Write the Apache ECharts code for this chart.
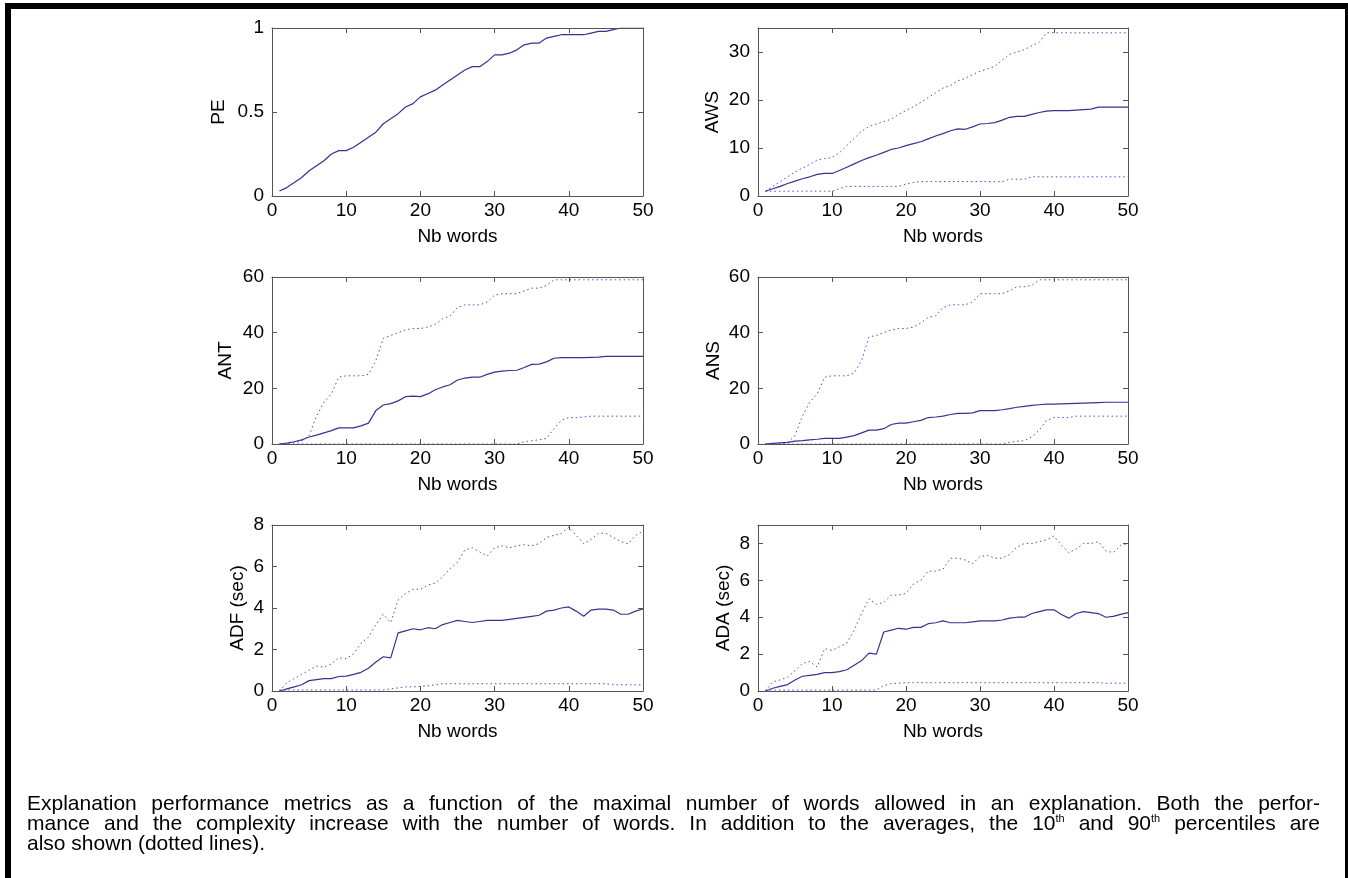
<!DOCTYPE html>
<html>
<head>
<meta charset="utf-8">
<script src="https://cdn.jsdelivr.net/npm/echarts@6/dist/echarts.min.js"></script>
<style>
  html, body { margin: 0; padding: 0; background: #fff; overflow: hidden; }
  #frame { position: absolute; left: 5px; top: 3px; width: 1346px; height: 900px;
           box-sizing: border-box; border: 6px solid #000; }
  #chart { position: absolute; left: 0; top: 0; width: 1348px; height: 878px; }
  #caption { position: absolute; left: 27px; top: 793px; width: 1293px;
             font-family: "Liberation Sans", Arial, sans-serif; font-size: 21px;
             line-height: 20px; color: #000; }
  #caption .j { text-align: justify; text-align-last: justify; }
  #caption sup { font-size: 11px; line-height: 0; vertical-align: 8px; }
</style>
</head>
<body>
<div id="frame"></div>
<div id="chart"></div>
<div id="caption">
  <div class="j">Explanation performance metrics as a function of the maximal number of words allowed in an explanation. Both the perfor-</div>
  <div class="j">mance and the complexity increase with the number of words. In addition to the averages, the 10<sup>th</sup> and 90<sup>th</sup> percentiles are</div>
  <div>also shown (dotted lines).</div>
</div>
<script>
// x: maximal number of words
const words = [1,2,3,4,5,6,7,8,9,10,11,12,13,14,15,16,17,18,19,20,21,22,23,24,25,
  26,27,28,29,30,31,32,33,34,35,36,37,38,39,40,41,42,43,44,45,46,47,48,49,50];

const peMean = [0.03,0.05,0.08,0.11,0.15,0.18,0.21,0.25,0.27,0.27,
  0.29,0.32,0.35,0.38,0.43,0.46,0.49,0.53,0.55,0.59,
  0.61,0.63,0.66,0.69,0.72,0.75,0.77,0.77,0.80,0.84,
  0.84,0.85,0.87,0.90,0.91,0.91,0.94,0.95,0.96,0.96,
  0.96,0.96,0.97,0.98,0.98,0.99,1.0,1.0,1.0,1.0];

const awsMean = [1.0,1.5,2.0,2.6,3.1,3.6,4.0,4.5,4.7,4.7,
  5.3,6.0,6.7,7.4,8.0,8.5,9.1,9.7,10.0,10.5,
  10.9,11.3,11.9,12.5,13.0,13.6,14.0,13.9,14.4,15.0,
  15.1,15.3,15.8,16.4,16.6,16.6,17.0,17.4,17.7,17.8,
  17.8,17.8,17.9,18.0,18.1,18.5,18.5,18.5,18.5,18.5];
const awsP90 = [1.0,2.0,3.0,4.0,5.0,5.8,6.6,7.5,7.8,8.0,
  9.0,10.5,12.0,13.5,14.5,15.0,15.5,16.0,17.0,17.8,
  18.6,19.5,20.5,21.5,22.5,23.0,24.0,24.5,25.3,26.0,
  26.5,27.0,28.3,29.5,30.0,30.5,31.3,32.0,34.0,34.0,
  34.0,34.0,34.0,34.0,34.0,34.0,34.0,34.0,34.0,34.0];
const awsP10 = [1,1,1,1,1,1,1,1,1,1,
  1.5,2,2,2,2,2,2,2,2,2.5,
  2.8,3,3,3,3,3,3,3,3,3,
  3,3,3,3.5,3.5,3.5,4,4,4,4,
  4,4,4,4,4,4,4,4,4,4];

const antMean = [0,0.3,0.8,1.5,2.5,3.2,4.0,4.8,5.8,5.8,
  5.8,6.5,7.5,12.0,14.0,14.5,15.5,17.0,17.2,17.0,
  18.0,19.5,20.5,21.3,23.0,23.7,24.0,24.0,25.0,25.8,
  26.2,26.4,26.5,27.5,28.6,28.7,29.5,30.8,31.0,31.0,
  31.0,31.0,31.1,31.2,31.5,31.5,31.5,31.5,31.5,31.5];
const antP90 = [0,0,0.5,1,3,10,15,18,24,24.5,
  24.5,24.5,25,30,38,39,40,41,41.5,41.5,
  42,43,45,46,49,50,50,50,51,53.5,
  54,54,54,55,56,56,57,59,59,59,
  59,59,59,59,59,59,59,59,59,59];
const antP10 = [0,0,0,0,0,0,0,0,0,0,
  0,0,0,0,0,0,0,0,0,0,
  0,0,0,0,0,0,0,0,0,0,
  0,0,0,0.8,1.2,1.5,2,5.5,8.5,9.5,
  9.5,9.7,10,10,10,10,10,10,10,10];

const ansMean = [0,0.2,0.4,0.6,1.0,1.2,1.5,1.7,2.0,2.0,
  2.0,2.5,3.0,4.0,5.0,5.0,5.5,7.0,7.5,7.5,
  8.0,8.5,9.5,9.7,10.0,10.6,11.0,11.0,11.2,12.0,
  12.0,12.0,12.3,12.7,13.2,13.5,13.9,14.1,14.3,14.3,
  14.4,14.5,14.6,14.7,14.8,14.9,15.0,15.0,15.0,15.0];
const ansP90 = [0,0,0,0.5,3,10,15,18,24,24.5,
  24.5,24.5,25.5,30,38.5,39,40,41,41.5,41.5,
  42,43.5,45.5,46,49,50,50,50,51,54,
  54,54,54,55,56.5,56.5,57,59,59,59,
  59,59,59,59,59,59,59,59,59,59];
const ansP10 = [0,0,0,0,0,0,0,0,0,0,
  0,0,0,0,0,0,0,0,0,0,
  0,0,0,0,0,0,0,0,0,0,
  0,0,0,0.6,1,1.2,2.5,5,8.5,9.5,
  9.5,9.5,10,10,10,10,10,10,10,10];

const adfMean = [0,0.1,0.2,0.3,0.5,0.55,0.6,0.6,0.7,0.72,
  0.8,0.9,1.1,1.4,1.65,1.6,2.8,2.9,3.0,2.95,
  3.05,3.0,3.2,3.3,3.4,3.35,3.3,3.35,3.4,3.4,
  3.4,3.45,3.5,3.55,3.6,3.65,3.85,3.9,4.0,4.05,
  3.85,3.6,3.9,3.95,3.95,3.9,3.7,3.7,3.85,3.95];
const adfP90 = [0,0.4,0.6,0.8,1.0,1.2,1.15,1.3,1.6,1.55,
  1.8,2.3,2.6,3.2,3.7,3.3,4.4,4.7,4.9,4.9,
  5.1,5.2,5.5,5.9,6.2,6.8,6.9,6.7,6.5,6.9,
  7.0,6.9,7.0,7.05,7.0,7.1,7.4,7.5,7.6,7.9,
  7.5,7.1,7.3,7.6,7.6,7.4,7.2,7.1,7.5,7.7];
const adfP10 = [0.05,0.05,0.05,0.05,0.05,0.05,0.05,0.05,0.05,0.05,
  0.05,0.05,0.05,0.05,0.05,0.1,0.15,0.2,0.2,0.22,
  0.25,0.3,0.35,0.35,0.35,0.35,0.35,0.35,0.35,0.35,
  0.35,0.35,0.35,0.35,0.35,0.35,0.35,0.35,0.35,0.35,
  0.35,0.35,0.35,0.35,0.35,0.3,0.3,0.3,0.3,0.3];

const adaMean = [0,0.15,0.25,0.35,0.6,0.8,0.85,0.9,1.0,1.0,
  1.05,1.15,1.4,1.65,2.05,2.0,3.2,3.3,3.4,3.35,
  3.45,3.45,3.65,3.7,3.8,3.7,3.7,3.7,3.75,3.8,
  3.8,3.8,3.85,3.95,4.0,4.0,4.2,4.3,4.4,4.4,
  4.15,3.95,4.2,4.3,4.25,4.2,4.0,4.05,4.15,4.25];
const adaP90 = [0,0.5,0.6,0.75,1.1,1.5,1.6,1.3,2.3,2.2,
  2.4,2.6,3.3,4.2,5.0,4.7,4.8,5.2,5.2,5.3,
  5.8,6.0,6.5,6.5,6.6,7.2,7.2,7.1,6.9,7.3,
  7.35,7.2,7.2,7.4,7.8,8.0,8.0,8.1,8.2,8.4,
  7.9,7.5,7.7,8.0,8.0,8.1,7.6,7.5,7.9,8.0];
const adaP10 = [0.05,0.05,0.05,0.05,0.05,0.05,0.05,0.05,0.05,0.05,
  0.05,0.05,0.05,0.05,0.05,0.05,0.3,0.4,0.42,0.45,
  0.45,0.45,0.45,0.45,0.45,0.45,0.45,0.45,0.45,0.45,
  0.45,0.45,0.45,0.45,0.45,0.45,0.45,0.45,0.45,0.45,
  0.45,0.45,0.45,0.45,0.45,0.45,0.42,0.42,0.42,0.42];

// subplot definitions (row-major, 3 rows x 2 cols)
const panels = [
  { label: "PE",        max: 1,  step: 0.5, gap: 44, mean: peMean },
  { label: "AWS",       max: 35, step: 10,  gap: 36, mean: awsMean, p90: awsP90, p10: awsP10 },
  { label: "ANT",       max: 60, step: 20,  gap: 37, mean: antMean, p90: antP90, p10: antP10 },
  { label: "ANS",       max: 60, step: 20,  gap: 35, mean: ansMean, p90: ansP90, p10: ansP10 },
  { label: "ADF (sec)", max: 8,  step: 2,   gap: 25, mean: adfMean, p90: adfP90, p10: adfP10 },
  { label: "ADA (sec)", max: 9,  step: 2,   gap: 25, mean: adaMean, p90: adaP90, p10: adaP10 },
];

const colLeft = [272, 758];
const colWidth = [371, 370];
const rowTop = [28, 277, 525];
const rowHeight = [168, 167, 166];

const FONT = "Liberation Sans, Arial, sans-serif";
const AXIS = "#555";
const MEAN = "#34348f";
const PCT = "#4a4ad0";

const pairs = (arr) => words.map((w, i) => [w, arr[i]]);

const grid = [], xAxis = [], yAxis = [], series = [];

panels.forEach((p, g) => {
  const r = Math.floor(g / 2), c = g % 2;
  grid.push({ left: colLeft[c], top: rowTop[r], width: colWidth[c], height: rowHeight[r] });

  const line = { show: true, onZero: false, lineStyle: { color: AXIS, width: 1 } };
  const tick = { show: true, inside: true, length: 5, lineStyle: { color: AXIS } };
  const lbl = { color: "#000", fontSize: 19, fontFamily: FONT };

  xAxis.push({
    gridIndex: g, type: "value", min: 0, max: 50, interval: 10, position: "bottom", z: 5,
    axisLine: line, axisTick: tick, splitLine: { show: false },
    axisLabel: Object.assign({ margin: 5 }, lbl),
    name: "Nb words", nameLocation: "middle", nameGap: 31,
    nameTextStyle: { color: "#000", fontSize: 19, fontFamily: FONT },
  });
  xAxis.push({
    gridIndex: g, type: "value", min: 0, max: 50, interval: 10, position: "top", z: 5,
    axisLine: line, axisTick: tick, splitLine: { show: false }, axisLabel: { show: false },
  });
  yAxis.push({
    gridIndex: g, type: "value", min: 0, max: p.max, interval: p.step, position: "left", z: 5,
    axisLine: line, axisTick: tick, splitLine: { show: false },
    axisLabel: Object.assign({ margin: 8, showMaxLabel: p.max % p.step === 0 }, lbl),
    name: p.label, nameLocation: "middle", nameGap: p.gap, nameRotate: 90,
    nameTextStyle: { color: "#000", fontSize: 19, fontFamily: FONT },
  });
  yAxis.push({
    gridIndex: g, type: "value", min: 0, max: p.max, interval: p.step, position: "right", z: 5,
    axisLine: line, axisTick: tick, splitLine: { show: false }, axisLabel: { show: false },
  });

  const base = { type: "line", xAxisIndex: 2 * g, yAxisIndex: 2 * g, showSymbol: false,
                 silent: true, animation: false };
  series.push(Object.assign({ data: pairs(p.mean), lineStyle: { color: MEAN, width: 1.2 } }, base));
  if (p.p90) {
    series.push(Object.assign({ data: pairs(p.p90),
      lineStyle: { color: PCT, width: 1, type: [1.5, 3] } }, base));
    series.push(Object.assign({ data: pairs(p.p10),
      lineStyle: { color: PCT, width: 1, type: [1.5, 3] } }, base));
  }
});

const chart = echarts.init(document.getElementById("chart"), null, { renderer: "canvas" });
chart.setOption({
  animation: false,
  backgroundColor: "transparent",
  grid, xAxis, yAxis, series,
});
</script>
</body>
</html>
